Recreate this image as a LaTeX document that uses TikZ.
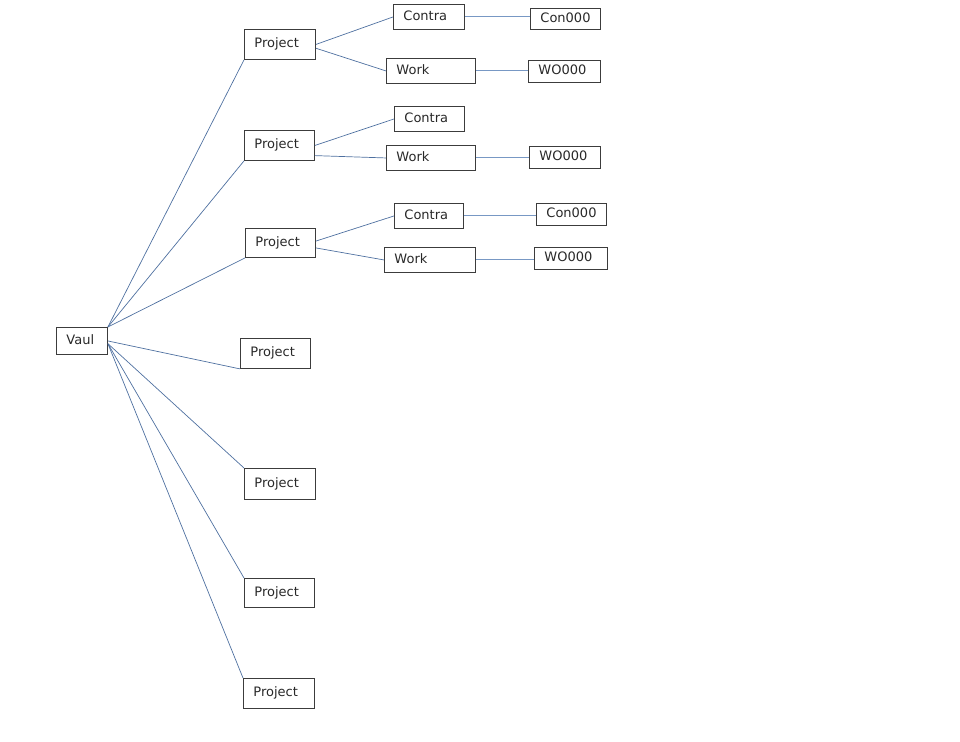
\documentclass[tikz,border=0pt]{standalone}
\usepackage{fontspec}
\setmainfont{DejaVu Sans}
\definecolor{edge}{RGB}{78,112,160}
\definecolor{lightedge}{RGB}{120,152,196}
\definecolor{frame}{RGB}{60,60,60}
\definecolor{ink}{RGB}{40,40,40}
\usepackage{tikz}
\usetikzlibrary{positioning}
\tikzstyle{base}=[remember picture, x=1pt, y=-1pt]
\tikzstyle{box}=[draw=frame, text=ink, line width=0.9pt, anchor=north west, inner xsep=10pt, inner ysep=0pt, align=left, text height=9.5pt, text depth=3pt, font=\fontsize{13}{15}\selectfont]
\tikzstyle{link}=[edge, line width=0.7pt]
\tikzstyle{flat}=[lightedge, line width=1pt]
\newcommand*{\cell}[6]{\node[box, minimum width=#4pt, minimum height=#5pt, text width=#4pt-20pt] (#1) at (#2,#3) {#6};}

\begin{document}
\begin{tikzpicture}[base]
    \path [use as bounding box] (0,0) rectangle (960,741);
        \cell{vaul}{56}{327}{51}{27}{Vaul}
        \cell{p1}{244}{29}{71}{30}{Project}
        \cell{p2}{244}{130}{70}{30}{Project}
        \cell{p3}{245}{228}{70}{29}{Project}
        \cell{p4}{240}{338}{70}{30}{Project}
        \cell{p5}{244}{468}{71}{31}{Project}
        \cell{p6}{244}{578}{70}{29}{Project}
        \cell{p7}{243}{678}{71}{30}{Project}
        \cell{c1}{393}{4}{71}{25}{Contra}
        \cell{c2}{394}{106}{70}{25}{Contra}
        \cell{c3}{394}{203}{69}{25}{Contra}
        \cell{w1}{386}{58}{89}{25}{Work}
        \cell{w2}{386}{145}{89}{25}{Work}
        \cell{w3}{384}{247}{91}{25}{Work}
        \cell{k1}{530}{8}{70}{21}{Con000}
        \cell{k3}{536}{203}{70}{22}{Con000}
        \cell{o1}{528}{60}{72}{22}{WO000}
        \cell{o2}{529}{146}{71}{22}{WO000}
        \cell{o3}{534}{247}{73}{22}{WO000}
        \foreach \p in {p1,p2,p3}
            \draw [link] (vaul.north east) -- (\p.south west);
        \draw [link] (vaul.east) -- (p4.south west);
        \foreach \p in {p5,p6,p7}
            \draw [link] (vaul.-6) -- (\p.north west);
        \draw [link] (p1.east) -- (c1.west);
        \draw [link] (p1.-6) -- (w1.west);
        \draw [link] (p2.east) -- (c2.west);
        \draw [link] (p2.-16) -- (w2.west);
        \draw [link] (p3.3) -- (c3.west);
        \draw [link] (p3.-8) -- (w3.west);
        \draw [flat] (c1.east) -- (c1.east -| k1.west);
        \draw [flat] (w1.east) -- (w1.east -| o1.west);
        \draw [flat] (w2.east) -- (w2.east -| o2.west);
        \draw [flat] (c3.east) -- (c3.east -| k3.west);
        \draw [flat] (w3.east) -- (w3.east -| o3.west);
    \end{tikzpicture}
\end{document}
